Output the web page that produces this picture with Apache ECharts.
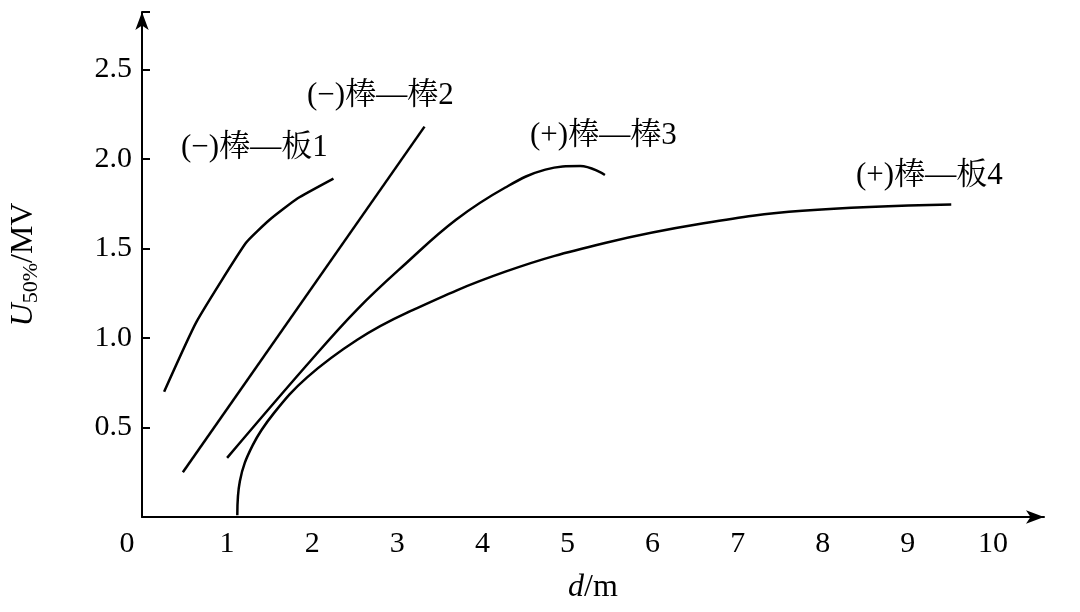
<!DOCTYPE html>
<html><head><meta charset="utf-8">
<script src="https://cdn.jsdelivr.net/npm/echarts@6/dist/echarts.min.js"></script>
<style>html,body{margin:0;background:#fff}#c{width:1080px;height:612px}</style>
</head><body><div id="c"></div>
<script>
const curve1 = [[0.26,0.70],[0.64,1.09],[1.22,1.53],[1.5,1.66],[1.83,1.78],[2.25,1.89]];
const curve2 = [[0.48,0.25],[3.32,2.18]];
const curve3 = [[1.0,0.33],[1.94,0.85],[2.53,1.16],[3.11,1.42],[3.69,1.66],[4.27,1.84],[4.74,1.94],[5.15,1.96],[5.44,1.91]];
const curve4 = [[1.12,0.01],[1.15,0.2],[1.3,0.4],[1.55,0.58],[1.94,0.78],[2.53,0.99],[3.11,1.14],[4.27,1.37],[5.44,1.53],[6.6,1.64],[7.76,1.71],[9.51,1.745]];
const names = ['(−)棒—板1','(−)棒—棒2','(+)棒—棒3','(+)棒—板4'];
const labelPos = [[181,132],[307,80],[530,120],[856,160]];
const F = '"Liberation Serif","Noto Serif CJK SC","Noto Sans CJK SC",serif';
const chart = echarts.init(document.getElementById('c'));
const mk = (d,s) => ({type:'line',data:d,smooth:s,symbol:'none',lineStyle:{color:'#000',width:2.5}});
chart.setOption({
  animation:false,
  grid:{left:133,right:36,top:12,bottom:95},
  xAxis:{type:'value',min:0,max:10.6,interval:1,
    axisLine:{lineStyle:{color:'#000',width:2},symbol:['none','arrow'],symbolSize:[10,18]},
    axisTick:{show:false},splitLine:{show:false},
    axisLabel:{color:'#000',fontFamily:F,fontSize:30,margin:12,formatter:v=>v>10?'':(v===0?'0    ':v)},
    name:'{i|d}/m',nameLocation:'middle',nameGap:55,
    nameTextStyle:{color:'#000',fontFamily:F,fontSize:32,rich:{i:{fontStyle:'italic',fontFamily:F,fontSize:32}}}},
  yAxis:{type:'value',min:0,max:2.82,interval:0.5,
    axisLine:{lineStyle:{color:'#000',width:2},symbol:['none','arrow'],symbolSize:[10,18]},
    axisTick:{inside:true,length:8,lineStyle:{color:'#000',width:2}},splitLine:{show:false},
    axisLabel:{color:'#000',fontFamily:F,fontSize:30,margin:10,formatter:v=>(v===0||v>2.5)?'':v.toFixed(1)},
    name:'{i|U}{s|50%}/MV',nameLocation:'middle',nameGap:100,nameRotate:90,
    nameTextStyle:{color:'#000',fontFamily:F,fontSize:32,rich:{i:{fontStyle:'italic',fontFamily:F,fontSize:32},s:{fontFamily:F,fontSize:22,verticalAlign:'bottom',padding:[14,0,0,0]}}}},
  series:[mk(curve1,0.15),mk(curve2,0),mk(curve3,0.4),mk(curve4,0.4)],
  graphic:names.map((n,i)=>({type:'text',left:labelPos[i][0],top:labelPos[i][1],
    style:{text:n,font:'31px '+F,fill:'#000'}}))
});
</script></body></html>
